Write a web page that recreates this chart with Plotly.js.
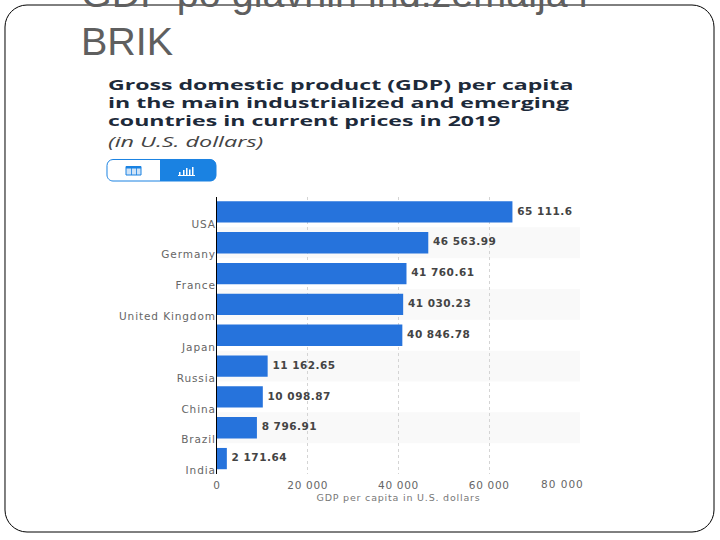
<!DOCTYPE html>
<html>
<head>
<meta charset="utf-8">
<script src="https://cdn.plot.ly/plotly-3.0.1.min.js"></script>
<style>
html,body{margin:0;padding:0;background:#fff;overflow:hidden}#c{width:720px;height:540px}
.annotation[data-index="2"] text,.annotation[data-index="3"] text,.annotation[data-index="4"] text{transform-box:fill-box;transform-origin:0 50%;transform:scaleX(1.54)}
.annotation[data-index="5"] text{transform-box:fill-box;transform-origin:0 50%;transform:scaleX(1.56)}
.annotation[data-index="6"] text{letter-spacing:1px}
.textpoint text{letter-spacing:.5px}
.xtick text{letter-spacing:.7px}
.ytick text{letter-spacing:.9px}
.g-xtitle text{letter-spacing:.8px}
</style>
</head>
<body>
<div id="c"></div>
<script>
const countries = ["USA","Germany","France","United Kingdom","Japan","Russia","China","Brazil","India"];
const gdpValues = [65111.6,46563.99,41760.61,41030.23,40846.78,11162.65,10098.87,8796.91,2171.64];
const valueLabels = ["65 111.6","46 563.99","41 760.61","41 030.23","40 846.78","11 162.65","10 098.87","8 796.91","2 171.64"];
const xTickValues = [0,20000,40000,60000,80000];
const xTickLabels = ["0","20 000","40 000","60 000","80 000"];
const slideTitleLines = ["GDP po glavnih ind.zemalja i","BRIK"];
const chartTitleLines = ["Gross domestic product (GDP) per capita","in the main industrialized and emerging","countries in current prices in 2019"];
const chartSubtitle = "(in U.S. dollars)";
const xAxisTitle = "GDP per capita in U.S. dollars";

const W = 720, H = 540;
const px = x => x / W;
const py = y => 1 - y / H;

function pathPx(cmds){
  return cmds.map(c => c[0] + c.slice(1).map((v,i)=> (i%2===0 ? px(v) : py(v)).toFixed(5)).join(' ')).join(' ');
}
function roundRect(l,t,r,b,rad){
  const k = rad*0.45;
  return pathPx([["M",l+rad,t],["L",r-rad,t],["C",r-k,t,r,t+k,r,t+rad],["L",r,b-rad],["C",r,b-k,r-k,b,r-rad,b],["L",l+rad,b],["C",l+k,b,l,b-k,l,b-rad],["L",l,t+rad],["C",l,t+k,l+k,t,l+rad,t],["Z"]]);
}
function note(text,x,y,font,xanchor){
  return {text, x:px(x), y:py(y), xref:'paper', yref:'paper', xanchor:xanchor||'left', yanchor:'middle', showarrow:false, font, align:'left'};
}
function boxPx(x0,y0,x1,y1,fill,lineColor,lw){
  return {type:'rect', xref:'paper', yref:'paper', x0:px(x0), x1:px(x1), y0:py(y0), y1:py(y1), fillcolor:fill||'rgba(0,0,0,0)', line:{color:lineColor||'rgba(0,0,0,0)', width:lw||0}};
}

const blue = '#1a82e2';
const shapes = [];
countries.forEach((c,i)=>{
  if(i%2===1) shapes.push({type:'rect', layer:'below', xref:'x domain', yref:'y', x0:0, x1:1, y0:i-0.5, y1:i+0.5, fillcolor:'#f9f9f9', line:{width:0}});
});
shapes.push({type:'path', xref:'paper', yref:'paper', path:roundRect(5,5,714,532,22), line:{color:'#000', width:1}, fillcolor:'rgba(0,0,0,0)'});
shapes.push({type:'path', xref:'paper', yref:'paper', path:roundRect(107,159.5,216,181,6), line:{color:blue, width:1}, fillcolor:'#fff'});
shapes.push({type:'path', xref:'paper', yref:'paper', path:pathPx([["M",160,159.5],["L",210,159.5],["C",214,159.5,216,162,216,165.5],["L",216,175],["C",216,179,214,181,210,181],["L",160,181],["Z"]]), line:{width:0}, fillcolor:blue});
shapes.push(boxPx(126,166.5,141,175,'#cfe3f7',blue,1));
shapes.push(boxPx(126,166.5,141,168.5,blue));
[131,136].forEach(x=>shapes.push(boxPx(x,166.5,x+0.8,175,blue)));
[[179,172],[183,170],[186,168],[189,169.5],[192,167]].forEach(b=>shapes.push(boxPx(b[0],b[1],b[0]+1.5,175,'#fff')));
shapes.push(boxPx(178,175,195,176,'#fff'));

const titleFont = {family:'Open Sans',size:15,weight:700,color:'#1d2a3a'};
const annotations = [
  note(slideTitleLines[0],79,-6.5,{family:'Liberation Sans',size:39.5,color:'#5f5f5f'}),
  note(slideTitleLines[1],79,41,{family:'Liberation Sans',size:39.5,color:'#5f5f5f'}),
  note(chartTitleLines[0],106,84,titleFont),
  note(chartTitleLines[1],106,101.5,titleFont),
  note(chartTitleLines[2],106,119.5,titleFont),
  note(chartSubtitle,106,141,{family:'Open Sans',size:15,style:'italic',color:'#444'}),
  note(xTickLabels[4],580,484,{family:'DejaVu Sans',size:10.5,color:'#666'},'right')
];

const bars = {
  type:'bar', orientation:'h', y:countries, x:gdpValues,
  marker:{color:'#2673dc', line:{width:0}}, width:0.69,
  hoverinfo:'skip'
};
const labels = {
  type:'scatter', mode:'markers+text', y:countries, x:gdpValues,
  marker:{size:6, opacity:0}, text:valueLabels, textposition:'middle right', cliponaxis:false,
  textfont:{family:'DejaVu Sans', size:10.5, weight:700, color:'#444'},
  hoverinfo:'skip'
};

const layout = {
  width:W, height:H, margin:{l:0,r:0,t:0,b:0,pad:0},
  paper_bgcolor:'#fff', plot_bgcolor:'rgba(0,0,0,0)', showlegend:false,
  xaxis:{domain:[px(217),px(580)], range:[0,80000], tickmode:'array', tickvals:xTickValues,
    ticktext:xTickLabels.map((t,i)=>i===4?'':t), showgrid:true, griddash:'dot', gridcolor:'#d4d4d4', gridwidth:1,
    zeroline:false, showline:false, ticks:'', ticklabelstandoff:3, tickfont:{family:'DejaVu Sans',size:10.5,color:'#666'},
    title:{text:xAxisTitle, font:{family:'DejaVu Sans',size:9.5,color:'#777'}, standoff:4}},
  yaxis:{domain:[py(474),py(196.5)], range:[8.5,-0.5], type:'category', categoryorder:'array', categoryarray:countries,
    showline:true, linecolor:'#000', linewidth:1, showgrid:false, zeroline:false, ticks:'',
    ticklabelshift:-12, ticklabelstandoff:-2, tickfont:{family:'DejaVu Sans',size:10.5,color:'#666'}},
  shapes, annotations
};
Plotly.newPlot('c',[bars,labels],layout,{displayModeBar:false,staticPlot:true});
</script>
</body>
</html>
